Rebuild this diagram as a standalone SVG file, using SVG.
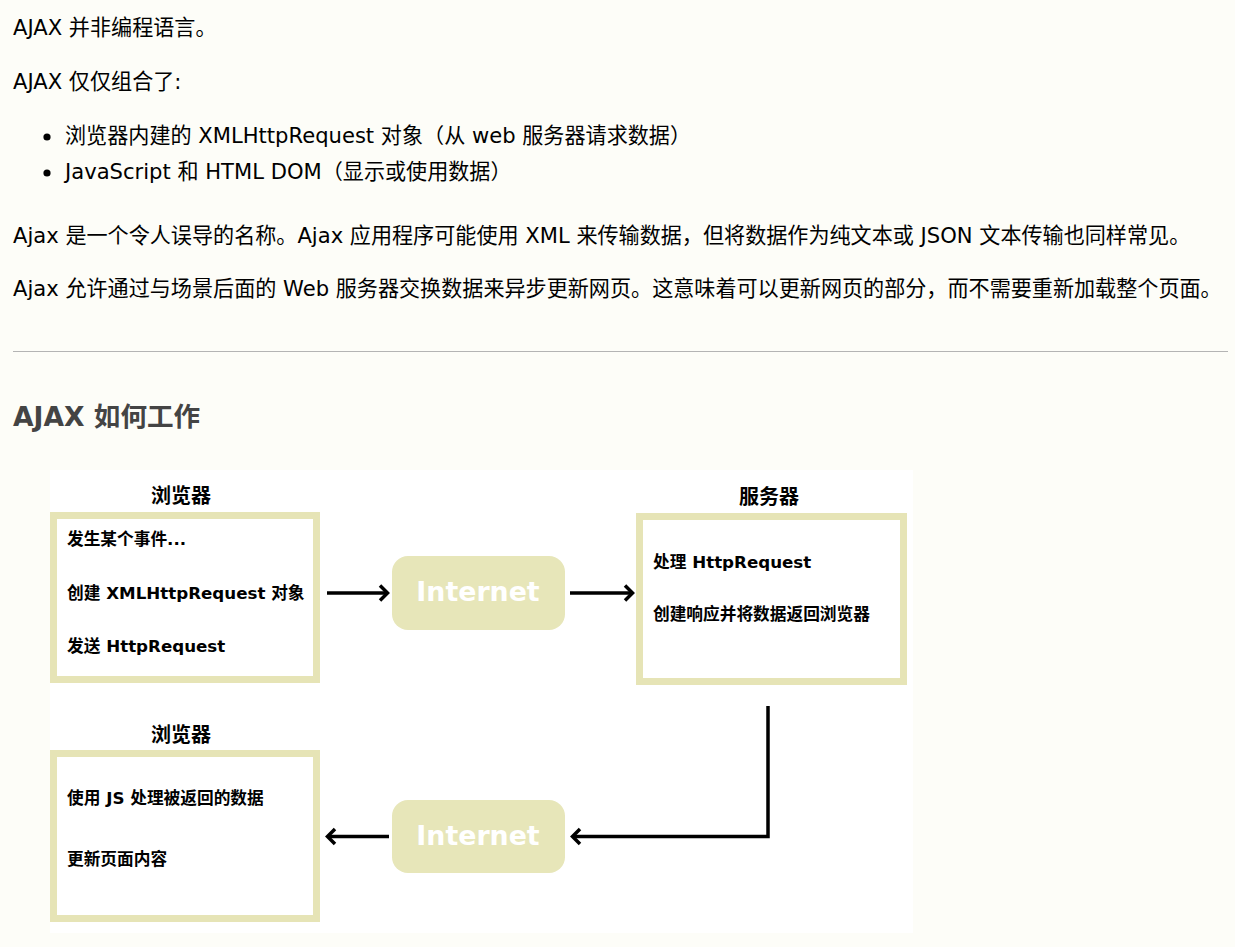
<svg xmlns="http://www.w3.org/2000/svg" width="1235" height="947" viewBox="0 0 1235 947">
<style>
.body{font-family:"DejaVu Sans","Noto Sans CJK SC",sans-serif;font-size:21.1px;fill:#000}
.h2{font-family:"DejaVu Sans","Noto Sans CJK SC",sans-serif;font-size:26.6px;font-weight:bold;fill:#444}
.box{fill:#fff;stroke:#e6e4b6;stroke-width:7}
.inet{fill:#e7e6b9}
.inet-t{font-family:"DejaVu Sans","Noto Sans CJK SC",sans-serif;font-size:26.8px;font-weight:bold;fill:#fff;text-anchor:middle}
.title{font-family:"DejaVu Sans","Noto Sans CJK SC",sans-serif;font-size:20px;font-weight:bold;fill:#000;text-anchor:middle}
.lbl{font-family:"DejaVu Sans","Noto Sans CJK SC",sans-serif;font-size:16.7px;font-weight:bold;fill:#000}
.conn{fill:none;stroke:#000;stroke-width:3.5}
</style>
<rect width="1235" height="947" fill="#fdfdf8"/>
<g id="text">
<text class="body" x="13" y="35">AJAX 并非编程语言。</text>
<text class="body" x="13" y="89">AJAX 仅仅组合了:</text>
<circle cx="47" cy="137" r="3.6" fill="#000"/>
<text class="body" x="65" y="143">浏览器内建的 XMLHttpRequest 对象（从 web 服务器请求数据）</text>
<circle cx="47" cy="173" r="3.6" fill="#000"/>
<text class="body" x="65" y="179">JavaScript 和 HTML DOM（显示或使用数据）</text>
<text class="body" x="13" y="243">Ajax 是一个令人误导的名称。Ajax 应用程序可能使用 XML 来传输数据，但将数据作为纯文本或 JSON 文本传输也同样常见。</text>
<text class="body" x="13" y="296">Ajax 允许通过与场景后面的 Web 服务器交换数据来异步更新网页。这意味着可以更新网页的部分，而不需要重新加载整个页面。</text>
<rect x="13" y="351" width="1215" height="1" fill="#b4b4b4"/>
<text class="h2" x="13" y="426">AJAX 如何工作</text>
</g>
<rect x="50" y="470" width="863" height="463" fill="#fff"/>
<g id="browser1">
<text class="title" x="181" y="503">浏览器</text>
<rect class="box" x="53.5" y="515.5" width="263" height="164"/>
<text class="lbl" x="67" y="545">发生某个事件...</text>
<text class="lbl" x="67" y="599">创建 XMLHttpRequest 对象</text>
<text class="lbl" x="67" y="652">发送 HttpRequest</text>
</g>
<g id="internet1">
<rect class="inet" x="392" y="556" width="173" height="74" rx="16"/>
<text class="inet-t" x="478" y="601">Internet</text>
</g>
<g id="server">
<text class="title" x="769" y="504">服务器</text>
<rect class="box" x="639.5" y="516.5" width="264" height="165"/>
<text class="lbl" x="653" y="568">处理 HttpRequest</text>
<text class="lbl" x="653" y="620">创建响应并将数据返回浏览器</text>
</g>
<g id="browser2">
<text class="title" x="181" y="742">浏览器</text>
<rect class="box" x="53.5" y="753.5" width="263" height="165"/>
<text class="lbl" x="67" y="804">使用 JS 处理被返回的数据</text>
<text class="lbl" x="67" y="865">更新页面内容</text>
</g>
<g id="internet2">
<rect class="inet" x="392" y="800" width="173" height="73" rx="16"/>
<text class="inet-t" x="478" y="845">Internet</text>
</g>
<g id="connectors">
<path class="conn" d="M327 593H387"/>
<path class="conn" d="M380 585.5L387.5 593L380 600.5"/>
<path class="conn" d="M570 593H632"/>
<path class="conn" d="M625 585.5L632.5 593L625 600.5"/>
<path class="conn" d="M768 706V836.5H573"/>
<path class="conn" d="M580 829L572.5 836.5L580 844"/>
<path class="conn" d="M389 836.5H328"/>
<path class="conn" d="M335 829L327.5 836.5L335 844"/>
</g>
</svg>
